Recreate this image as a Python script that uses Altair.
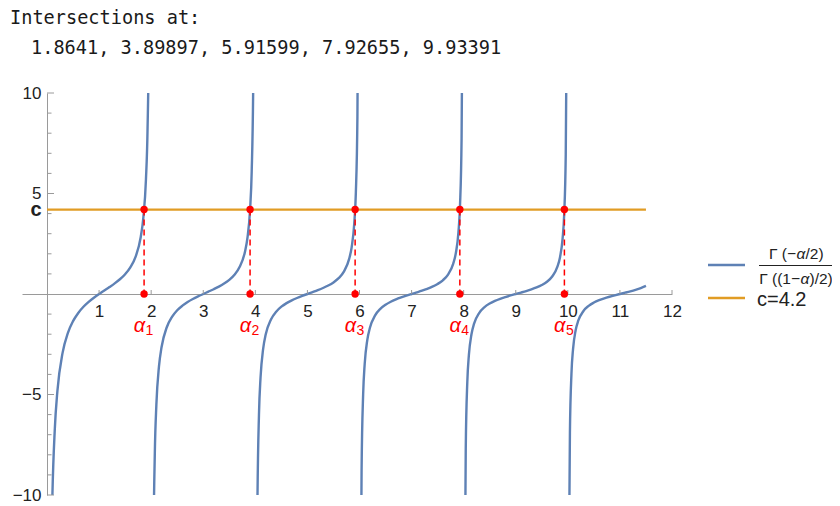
import altair as alt
import pandas as pd

# ---------------- data ----------------
TITLE_LINE = "Intersections at:"
ROOT_TEXT = "1.8641, 3.89897, 5.91599, 7.92655, 9.93391"
ROOTS = [1.8641, 3.89897, 5.91599, 7.92655, 9.93391]
ROOT_NAMES = ["1", "2", "3", "4", "5"]
C_VALUE = 4.2
C_LINE_X = [0.0, 11.5]
LEGEND_C = "c=4.2"

X_TICKS = [1, 2, 3, 4, 5, 6, 7, 8, 9, 10, 11, 12]
Y_MAJOR_TICKS = [-10, -5, 5, 10]
Y_MINOR_TICKS = [-9, -8, -7, -6, -4, -3, -2, -1, 1, 2, 3, 4, 6, 7, 8, 9]
Y_LABELS = [-10, -5, 4.2, 5, 10]

# curve branches
B0_X = [0.02, 0.04, 0.07, 0.1, 0.15, 0.2, 0.3, 0.4, 0.5, 0.6, 0.7, 0.8, 0.9, 1.0,
        1.1, 1.2, 1.3, 1.4, 1.5, 1.6, 1.7, 1.8, 1.85, 1.9, 1.93, 1.96, 1.98]
B0_Y = [-55.6, -27.4, -15.33, -10.48, -6.71, -4.817, -2.915, -1.946, -1.352, -0.942,
        -0.636, -0.391, -0.185, 0.0, 0.1735, 0.346, 0.528, 0.734, 0.986, 1.326, 1.850,
        2.839, 3.803, 5.707, 8.139, 14.19, 28.3]
B1_X = [2.02, 2.04, 2.07, 2.1, 2.15, 2.2, 2.3, 2.4, 2.5, 2.6, 2.7, 2.8, 2.9, 3.0,
        3.1, 3.2, 3.3, 3.4, 3.5, 3.6, 3.7, 3.8, 3.85, 3.9, 3.93, 3.96, 3.98]
B1_Y = [-28.1, -13.98, -7.935, -5.506, -3.603, -2.638, -1.655, -1.142, -0.811, -0.581,
        -0.401, -0.252, -0.121, 0.0, 0.118, 0.238, 0.368, 0.519, 0.704, 0.958, 1.351,
        2.093, 2.816, 4.243, 6.069, 10.60, 21.19]
B2_X = [4.02, 4.04, 4.07, 4.1, 4.15, 4.2, 4.3, 4.4, 4.5, 4.6, 4.7, 4.8, 4.9, 5.0,
        5.1, 5.2, 5.3, 5.4, 5.5, 5.6, 5.7, 5.8, 5.85, 5.9, 5.93, 5.96, 5.98]
B2_Y = [-21.11, -10.52, -5.978, -4.155, -2.728, -2.004, -1.266, -0.879, -0.631, -0.454,
        -0.315, -0.199, -0.096, 0.0, 0.0946, 0.192, 0.299, 0.422, 0.576, 0.787, 1.113,
        1.733, 2.334, 3.523, 5.044, 8.824, 17.65]
B3_X = [6.02, 6.04, 6.07, 6.1, 6.15, 6.2, 6.3, 6.4, 6.5, 6.6, 6.7, 6.8, 6.9, 7.0,
        7.1, 7.2, 7.3, 7.4, 7.5, 7.6, 7.7, 7.8, 7.85, 7.9, 7.93, 7.96, 7.98]
B3_Y = [-17.60, -8.776, -4.992, -3.472, -2.282, -1.681, -1.064, -0.740, -0.534, -0.385,
        -0.268, -0.170, -0.0823, 0.0, 0.0812, 0.165, 0.258, 0.365, 0.4995, 0.683, 0.969,
        1.510, 2.037, 3.079, 4.409, 7.721, 15.44]
B4_X = [8.02, 8.04, 8.07, 8.1, 8.15, 8.2, 8.3, 8.4, 8.5, 8.6, 8.7, 8.8, 8.9, 9.0,
        9.1, 9.2, 9.3, 9.4, 9.5, 9.6, 9.7, 9.8, 9.85, 9.9, 9.93, 9.96, 9.98]
B4_Y = [-15.41, -7.684, -4.373, -3.043, -2.002, -1.475, -0.935, -0.652, -0.471, -0.340,
        -0.237, -0.151, -0.0730, 0.0, 0.0723, 0.147, 0.230, 0.326, 0.447, 0.612, 0.869,
        1.356, 1.831, 2.768, 3.966, 6.946, 13.89]
B5_X = [10.02, 10.04, 10.07, 10.1, 10.15, 10.2, 10.3, 10.4, 10.5, 10.6, 10.7, 10.8,
        10.9, 11.0, 11.1, 11.2, 11.3, 11.4, 11.5]
B5_Y = [-13.87, -6.919, -3.938, -2.742, -1.804, -1.330, -0.844, -0.589, -0.426, -0.308,
        -0.215, -0.137, -0.0663, 0.0, 0.0657, 0.134, 0.210, 0.298, 0.408]

BRANCHES = [(B0_X, B0_Y), (B1_X, B1_Y), (B2_X, B2_Y), (B3_X, B3_Y), (B4_X, B4_Y), (B5_X, B5_Y)]

# ---------------- styles ----------------
BLUE = "#5E81B5"
ORANGE = "#E19C24"
RED = "#FF0000"
AXIS_GRAY = "#9a9a9a"
LABEL = "#222222"
FONT = "Liberation Sans"
MONO = "DejaVu Sans Mono"

W, H = 650, 402
XS = alt.Scale(domain=[-0.48, 12], nice=False, zero=False)
YS = alt.Scale(domain=[-10, 10], nice=False, zero=False)

frames = []
for i, (bx, by) in enumerate(BRANCHES):
    frames.append(pd.DataFrame({"x": bx, "y": by, "branch": i}))
curve_df = pd.concat(frames, ignore_index=True)

X_AXIS = alt.Axis(
    values=X_TICKS, offset=-H / 2, ticks=False, tickSize=0, domainColor=AXIS_GRAY,
    domainWidth=1, labelFont=FONT, labelFontSize=17, labelColor=LABEL, labelPadding=9,
    labelFlush=False, labelOverlap=False, grid=False, title=None, format="d",
)
Y_AXIS = alt.Axis(
    values=Y_LABELS, offset=-25, ticks=False, tickSize=0, domainColor=AXIS_GRAY,
    domainWidth=1, labelFont=FONT, labelColor=LABEL, labelPadding=6,
    labelFontSize={"condition": {"test": "datum.value == 4.2", "value": 20}, "value": 17},
    labelFontWeight={"condition": {"test": "datum.value == 4.2", "value": "bold"}, "value": "normal"},
    labelExpr="datum.value == 4.2 ? 'c' : (datum.value < 0 ? '\u2212' + format(-datum.value, 'd') : format(datum.value, 'd'))",
    labelFlush=False, labelOverlap=False, grid=False, title=None,
)


def X(field):
    return alt.X(field, type="quantitative", scale=XS, axis=X_AXIS)


def Y(field):
    return alt.Y(field, type="quantitative", scale=YS, axis=Y_AXIS)


curve = alt.Chart(curve_df).mark_line(
    color=BLUE, strokeWidth=2.4, interpolate="monotone", clip=True
).encode(x=X("x"), y=Y("y"), detail="branch:N")

# axis ticks (Mathematica style: pointing into the plot)
xt_df = pd.DataFrame({"x": X_TICKS, "y0": 0})
x_ticks = alt.Chart(xt_df).mark_rule(color=AXIS_GRAY, strokeWidth=1, y2Offset=-4).encode(
    x=X("x"), y=Y("y0"), y2="y0"
)
ymaj_df = pd.DataFrame({"y": Y_MAJOR_TICKS, "x0": 0})
y_major = alt.Chart(ymaj_df).mark_rule(color=AXIS_GRAY, strokeWidth=1, x2Offset=7).encode(
    y=Y("y"), x=X("x0"), x2="x0"
)
ymin_df = pd.DataFrame({"y": Y_MINOR_TICKS, "x0": 0})
y_minor = alt.Chart(ymin_df).mark_rule(color=AXIS_GRAY, strokeWidth=1, x2Offset=4.5).encode(
    y=Y("y"), x=X("x0"), x2="x0"
)

c_df = pd.DataFrame({"x": [C_LINE_X[0]], "x2": [C_LINE_X[1]], "y": [C_VALUE]})
c_line = alt.Chart(c_df).mark_rule(color=ORANGE, strokeWidth=2.4).encode(
    x=X("x"), x2="x2", y=Y("y")
)

r_df = pd.DataFrame({"x": ROOTS, "y": C_VALUE, "y0": 0.0, "sub": ROOT_NAMES})
dashes = alt.Chart(r_df).mark_rule(color=RED, strokeWidth=1.5, strokeDash=[6, 4]).encode(
    x=X("x"), y=Y("y"), y2="y0"
)
pts_top = alt.Chart(r_df).mark_circle(color=RED, size=55, opacity=1).encode(x=X("x"), y=Y("y"))
pts_bot = alt.Chart(r_df).mark_circle(color=RED, size=55, opacity=1).encode(x=X("x"), y=Y("y0"))
alpha_lbl = alt.Chart(r_df).mark_text(
    text="α", color=RED, font=FONT, fontSize=20, fontStyle="italic", align="right", dx=1,
    baseline="alphabetic"
).encode(x=X("x"), y=alt.value(239))
alpha_sub = alt.Chart(r_df).mark_text(
    color=RED, font=FONT, fontSize=14, align="left", dx=1.5, baseline="alphabetic"
).encode(x=X("x"), y=alt.value(242), text="sub:N")

one = pd.DataFrame({"a": [0]})


def txt(s, x, y, size, align="left", font=FONT, style="normal", weight="normal", color=LABEL,
        baseline="alphabetic"):
    return alt.Chart(one).mark_text(
        text=s, font=font, fontSize=size, fontStyle=style, fontWeight=weight, color=color,
        align=align, baseline=baseline
    ).encode(x=alt.value(x), y=alt.value(y))


def seg(x1, x2, y, color, width):
    return alt.Chart(one).mark_rule(color=color, strokeWidth=width).encode(
        x=alt.value(x1), x2=alt.value(x2), y=alt.value(y)
    )


header = [
    txt(TITLE_LINE, -12, -69.5, 18.6, font=MONO, color="#1a1a1a"),
    txt(ROOT_TEXT, 9, -39.5, 18.6, font=MONO, color="#1a1a1a"),
]

legend = [
    seg(686, 723, 172, BLUE, 2.5),
    txt("Γ (−", 774, 166, 15.5, align="right"),
    txt("α", 774.5, 166, 15.5, style="italic"),
    txt("/2)", 783.5, 166, 15.5),
    seg(737, 814, 172.5, "#222222", 1),
    txt("Γ ((1−", 778, 191, 15.5, align="right"),
    txt("α", 778.5, 191, 15.5, style="italic"),
    txt(")/2)", 787.5, 191, 15.5),
    seg(686, 723, 205, ORANGE, 2.5),
    txt(LEGEND_C, 735, 207, 20, baseline="middle"),
]

chart = alt.layer(
    curve, x_ticks, y_major, y_minor, c_line, dashes, pts_top, pts_bot, alpha_lbl, alpha_sub,
    *header, *legend
).properties(
    width=W, height=H,
    autosize=alt.AutoSizeParams(type="none"),
    padding={"left": 14, "top": 85, "right": 160, "bottom": 8},
).configure_view(stroke=None)

chart.save("out.html", embed_options={"renderer": "svg", "actions": False})
